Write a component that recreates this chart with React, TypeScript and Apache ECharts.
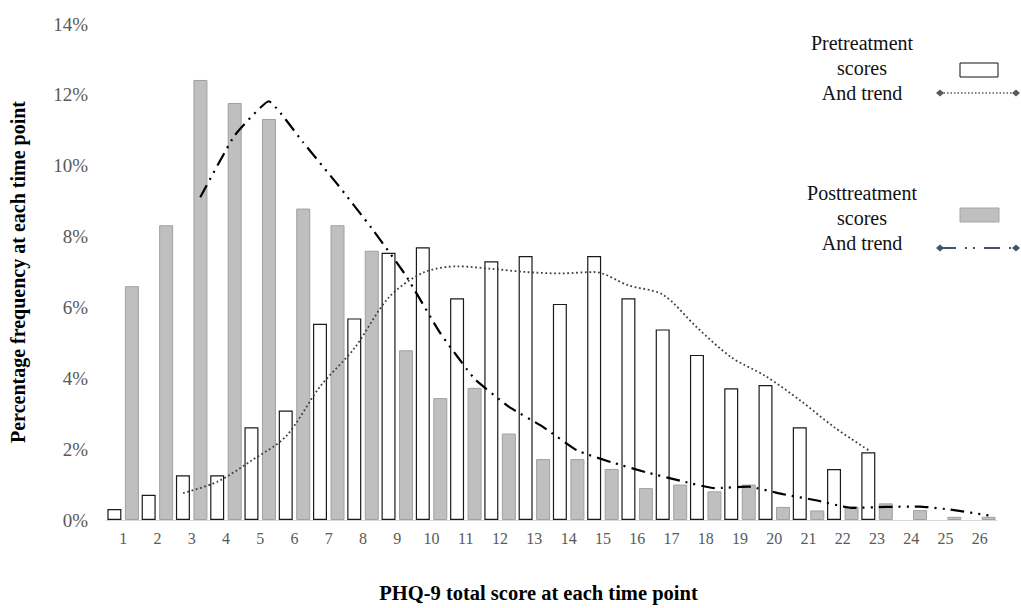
import React, { useEffect, useRef } from "react";
import * as echarts from "echarts";

// ---- data ----
const categories = [
  "1", "2", "3", "4", "5", "6", "7", "8", "9", "10", "11", "12", "13",
  "14", "15", "16", "17", "18", "19", "20", "21", "22", "23", "24", "25", "26",
];
// Pretreatment score frequency (%)
const preScores: (number | null)[] = [
  0.31, 0.71, 1.26, 1.26, 2.62, 3.09, 5.54, 5.69, 7.54, 7.70, 6.26, 7.30, 7.45,
  6.10, 7.45, 6.26, 5.38, 4.66, 3.72, 3.81, 2.62, 1.44, 1.91, null, null, null,
];
// Posttreatment score frequency (%)
const postScores: (number | null)[] = [
  6.60, 8.32, 12.42, 11.77, 11.32, 8.79, 8.32, 7.60, 4.79, 3.44, 3.73, 2.44, 1.72,
  1.72, 1.44, 0.90, 1.00, 0.81, 1.00, 0.37, 0.27, 0.38, 0.47, 0.28, 0.09, 0.09,
];
// Trend lines (%)
const preTrend: (number | null)[] = [
  null, null, 0.76, 1.08, 1.68, 2.36, 3.77, 4.85, 6.28, 6.98, 7.16, 7.09, 7.00,
  6.96, 7.00, 6.62, 6.36, 5.43, 4.59, 4.06, 3.38, 2.62, 1.97, null, null, null,
];
const postTrend: (number | null)[] = [
  null, null, 9.11, 10.85, 11.82, 10.66, 9.48, 8.24, 6.90, 5.28, 3.99, 3.20, 2.63,
  1.96, 1.63, 1.35, 1.11, 0.90, 0.94, 0.73, 0.55, 0.34, 0.37, 0.38, 0.28, 0.13,
];
const yTicks = { min: 0, max: 14, interval: 2 };

const FONT = "'Liberation Serif', 'Times New Roman', serif";
const BAR_OFFSET = 0.25; // trend lines sit on their bar's centre (fraction of a category)

function diamond(cx: number, cy: number, fill: string) {
  return {
    type: "polygon",
    shape: { points: [[cx - 4, cy], [cx, cy - 3.5], [cx + 4, cy], [cx, cy + 3.5]] },
    style: { fill },
    z: 10,
  };
}

export default function App() {
  const ref = useRef<HTMLDivElement>(null);

  useEffect(() => {
    document.body.style.margin = "0";
    if (!ref.current) return;
    const chart = echarts.init(ref.current, undefined, { renderer: "svg" });

    const toXY = (arr: (number | null)[], off: number) =>
      arr.map((v, i) => [i + 1 + off, v]).filter((p) => p[1] != null);

    const textStyle = { font: `20px ${FONT}`, fill: "#111", align: "center", verticalAlign: "middle" };

    chart.setOption({
      animation: false,
      backgroundColor: "#ffffff",
      grid: { left: 106, right: 24, top: 24, bottom: 82 },
      xAxis: [
        {
          type: "category",
          data: categories,
          axisLine: { lineStyle: { color: "#d9d9d9", width: 1 } },
          axisTick: { show: false },
          axisLabel: { color: "#595959", fontFamily: FONT, fontSize: 16, margin: 10 },
          name: "PHQ-9 total score at each time point",
          nameLocation: "middle",
          nameGap: 62,
          nameTextStyle: {
            fontFamily: FONT, fontSize: 20.5, fontWeight: "bold", color: "#000",
            padding: [0, 26, 0, 0],
          },
        },
        { type: "value", min: 0.5, max: 26.5, show: false },
      ],
      yAxis: {
        type: "value",
        min: yTicks.min,
        max: yTicks.max,
        interval: yTicks.interval,
        splitLine: { show: false },
        axisLine: { show: false },
        axisTick: { show: false },
        axisLabel: { formatter: "{value}%", color: "#595959", fontFamily: FONT, fontSize: 19, margin: 18 },
        name: "Percentage frequency at each time point",
        nameLocation: "middle",
        nameGap: 78,
        nameTextStyle: { fontFamily: FONT, fontSize: 20, fontWeight: "bold", color: "#000" },
      },
      series: [
        {
          name: "Pretreatment scores",
          type: "bar",
          data: preScores,
          barWidth: 14,
          barGap: "25%",
          itemStyle: { color: "#ffffff", borderColor: "#1a1a1a", borderWidth: 1.2 },
        },
        {
          name: "Posttreatment scores",
          type: "bar",
          data: postScores,
          barWidth: 14,
          itemStyle: { color: "#bfbfbf", borderColor: "#a0a0a0", borderWidth: 1 },
        },
        {
          name: "Pretreatment trend",
          type: "line",
          xAxisIndex: 1,
          data: toXY(preTrend, -BAR_OFFSET),
          smooth: 0.3,
          showSymbol: false,
          lineStyle: { color: "#404040", width: 1.8, type: [1.8, 2.6] },
          z: 5,
        },
        {
          name: "Posttreatment trend",
          type: "line",
          xAxisIndex: 1,
          data: toXY(postTrend, BAR_OFFSET),
          smooth: 0.12,
          showSymbol: false,
          lineStyle: { color: "#000000", width: 2.2, type: [14, 6, 2, 6, 2, 6] },
          z: 5,
        },
      ],
      graphic: [
        { type: "text", x: 862, y: 43, style: { ...textStyle, text: "Pretreatment" } },
        { type: "text", x: 862, y: 68, style: { ...textStyle, text: "scores" } },
        { type: "text", x: 862, y: 93, style: { ...textStyle, text: "And trend" } },
        {
          type: "rect",
          shape: { x: 960, y: 63, width: 38, height: 14 },
          style: { fill: "#ffffff", stroke: "#111", lineWidth: 1 },
        },
        {
          type: "line",
          shape: { x1: 940, y1: 93, x2: 1016, y2: 93 },
          style: { stroke: "#595959", lineWidth: 1.5, lineDash: [1.5, 2] },
        },
        diamond(940, 93, "#595959"),
        diamond(1016, 93, "#595959"),

        { type: "text", x: 862, y: 193, style: { ...textStyle, text: "Posttreatment" } },
        { type: "text", x: 862, y: 218, style: { ...textStyle, text: "scores" } },
        { type: "text", x: 862, y: 243, style: { ...textStyle, text: "And trend" } },
        {
          type: "rect",
          shape: { x: 960, y: 208, width: 39, height: 14 },
          style: { fill: "#bfbfbf", stroke: "#a6a6a6", lineWidth: 1 },
        },
        {
          type: "line",
          shape: { x1: 940, y1: 248, x2: 1016, y2: 248 },
          style: { stroke: "#44546a", lineWidth: 2, lineDash: [16, 9, 2, 6, 2, 9] },
        },
        diamond(940, 248, "#44546a"),
        diamond(1016, 248, "#44546a"),
      ],
    });

    return () => chart.dispose();
  }, []);

  return <div ref={ref} style={{ width: 1021, height: 608 }} />;
}
